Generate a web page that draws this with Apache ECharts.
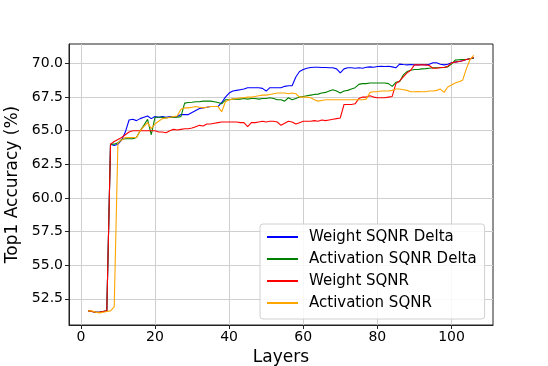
<!DOCTYPE html>
<html><head><meta charset="utf-8">
<script src="https://cdn.jsdelivr.net/npm/echarts@6/dist/echarts.min.js"></script>
<style>html,body{margin:0;padding:0;background:#fff}#c{width:548px;height:366px}</style>
</head><body><div id="c"></div>
<script>
const layers = [2,3,4,5,6,7,8,9,10,11,12,13,14,15,16,17,18,19,20,21,22,23,24,25,26,27,28,29,30,31,32,33,34,35,36,37,38,39,40,41,42,43,44,45,46,47,48,49,50,51,52,53,54,55,56,57,58,59,60,61,62,63,64,65,66,67,68,69,70,71,72,73,74,75,76,77,78,79,80,81,82,83,84,85,86,87,88,89,90,91,92,93,94,95,96,97,98,99,100,101,102,103,104,105,106];

const weightSqnrDelta = [
51.6,51.55,51.5,51.5,51.55,51.6,64.0,63.9,64.0,64.3,
64.9,65.8,65.85,65.75,65.9,66.0,66.1,65.9,66.05,66.0,
66.05,66.0,66.05,66.0,66.05,66.2,66.2,66.2,66.35,66.5,
66.65,66.7,66.75,66.8,66.8,66.8,67.1,67.5,67.8,67.95,
68.0,68.05,68.1,68.2,68.2,68.2,68.2,68.15,67.95,68.2,
68.2,68.2,68.2,68.3,68.35,68.35,69.0,69.4,69.55,69.65,
69.7,69.72,69.72,69.7,69.7,69.68,69.68,69.6,69.3,69.6,
69.68,69.68,69.65,69.68,69.65,69.72,69.75,69.72,69.78,69.8,
69.78,69.8,69.75,69.68,69.95,69.92,69.9,69.92,69.9,69.9,
69.92,69.9,69.95,70.05,70.05,69.95,69.9,69.95,70.05,70.1,
70.15,70.2,70.3,70.35,70.4];

const activationSqnrDelta = [
51.6,51.55,51.5,51.5,51.55,51.6,64.0,64.0,64.1,64.35,
64.4,64.4,64.4,64.5,65.0,65.4,65.85,64.7,66.0,66.0,
66.0,65.95,66.0,66.0,66.0,66.05,67.05,67.1,67.12,67.15,
67.15,67.2,67.2,67.2,67.15,67.1,67.0,67.3,67.3,67.35,
67.35,67.35,67.4,67.35,67.4,67.4,67.35,67.4,67.4,67.45,
67.4,67.3,67.3,67.2,67.45,67.3,67.4,67.5,67.55,67.6,
67.65,67.7,67.72,67.8,67.85,67.95,68.05,67.95,67.8,67.95,
68.0,68.1,68.2,68.45,68.5,68.5,68.55,68.55,68.55,68.55,
68.55,68.5,68.3,68.6,68.65,69.15,69.4,69.5,69.55,69.55,
69.6,69.62,69.65,69.68,69.68,69.68,69.7,69.75,69.95,70.25,
70.28,70.3,70.3,70.35,70.4];

const weightSqnr = [
51.6,51.55,51.5,51.5,51.55,51.6,64.0,64.2,64.35,64.5,
64.7,64.9,65.0,65.0,65.0,65.0,65.0,65.0,65.0,64.9,
64.9,64.85,65.0,65.1,65.05,65.1,65.15,65.15,65.2,65.3,
65.4,65.35,65.5,65.5,65.55,65.6,65.65,65.65,65.65,65.65,
65.65,65.6,65.6,65.3,65.6,65.6,65.65,65.7,65.65,65.7,
65.7,65.65,65.4,65.55,65.7,65.65,65.5,65.6,65.7,65.7,
65.7,65.75,65.7,65.8,65.75,65.8,65.85,65.9,65.95,66.95,
66.95,66.95,67.0,67.4,67.5,67.5,67.6,67.5,67.45,67.45,
67.45,67.5,67.55,68.5,68.7,69.0,69.3,69.5,69.9,69.9,
69.9,69.9,69.85,69.65,69.65,69.7,69.7,69.8,70.05,70.1,
70.15,70.2,70.3,70.35,70.45];

const activationSqnr = [
51.6,51.6,51.5,51.45,51.5,51.55,51.6,51.9,64.1,64.3,
64.5,64.5,64.5,64.5,65.0,65.3,65.6,65.15,65.5,65.7,
65.9,65.95,66.0,66.05,66.1,66.6,66.7,66.7,66.75,66.8,
66.75,66.7,66.75,66.8,66.8,66.8,66.4,67.15,67.3,67.35,
67.4,67.45,67.45,67.5,67.5,67.55,67.6,67.65,67.65,67.7,
67.75,67.8,67.8,67.8,67.75,67.8,67.75,67.5,67.5,67.5,
67.45,67.3,67.2,67.25,67.3,67.3,67.3,67.3,67.3,67.3,
67.3,67.3,67.3,67.3,67.3,67.35,67.85,67.9,67.9,67.95,
67.95,67.95,68.0,68.1,68.1,68.05,68.0,67.9,67.9,67.92,
67.9,67.9,67.95,67.95,68.0,68.1,67.85,68.25,68.4,68.55,
68.65,68.75,69.6,70.3,70.6];

const seriesNames = ['Weight SQNR Delta','Activation SQNR Delta','Weight SQNR','Activation SQNR'];
const seriesColors = ['#0000ff','#008000','#ff0000','#ffa500'];
const seriesValues = [weightSqnrDelta, activationSqnrDelta, weightSqnr, activationSqnr];
const xTicks = [0,20,40,60,80,100];
const yTicks = [52.5,55.0,57.5,60.0,62.5,65.0,67.5,70.0];

const FONT = 'DejaVu Sans';
const chart = echarts.init(document.getElementById('c'), null, {renderer:'canvas'});
chart.setOption({
  animation:false,
  backgroundColor:'#fff',
  grid:{left:69,right:55,top:44,bottom:41,containLabel:false,outerBoundsMode:'none',show:true,borderColor:'#222',borderWidth:1,backgroundColor:'transparent'},
  legend:{
    orient:'vertical', left:260, top:224,
    data:seriesNames, icon:'rect', itemWidth:31, itemHeight:2, itemGap:6,
    backgroundColor:'rgba(255,255,255,0.85)', borderColor:'#d0d0d0', borderWidth:1, borderRadius:3,
    padding:[5,8,8,7],
    textStyle:{fontFamily:FONT,fontSize:15,color:'#000',lineHeight:16,padding:[0,0,0,6]}
  },
  xAxis:{
    type:'value', min:-3.2, max:111.2, interval:20,
    name:'Layers', nameLocation:'middle', nameGap:18,
    nameTextStyle:{fontFamily:FONT,fontSize:17,color:'#000'},
    axisLine:{show:true,onZero:false,lineStyle:{color:'#222'}},
    axisTick:{show:true,length:4,lineStyle:{color:'#222'},customValues:xTicks},
    axisLabel:{fontFamily:FONT,fontSize:14,color:'#000',margin:5,customValues:xTicks,formatter:v=>String(v)},
    splitLine:{show:true,lineStyle:{color:'#cfcfcf',width:1}}
  },
  yAxis:{
    type:'value', min:50.55, max:71.45, interval:2.5,
    name:'Top1 Accuracy (%)', nameLocation:'middle', nameGap:32,
    nameTextStyle:{fontFamily:FONT,fontSize:17,color:'#000'},
    axisLine:{show:true,onZero:false,lineStyle:{color:'#222'}},
    axisTick:{show:true,length:4,lineStyle:{color:'#222'},customValues:yTicks},
    axisLabel:{fontFamily:FONT,fontSize:14,color:'#000',margin:6,customValues:yTicks,formatter:v=>v.toFixed(1)},
    splitLine:{show:true,lineStyle:{color:'#cfcfcf',width:1}}
  },
  series: seriesNames.map((n,k)=>({
    name:n, type:'line', symbol:'none', color:seriesColors[k],
    lineStyle:{width:1.1,color:seriesColors[k]},
    data: layers.map((l,i)=>[l, seriesValues[k][i]])
  }))
});
</script>
</body></html>
